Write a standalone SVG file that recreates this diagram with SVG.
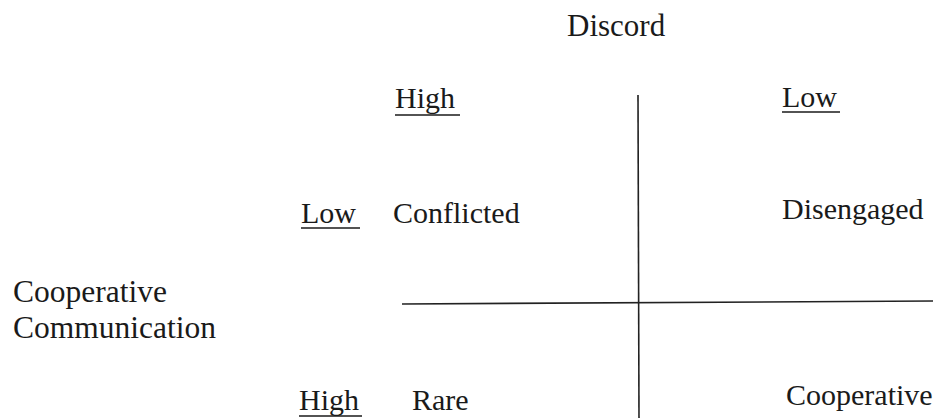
<svg xmlns="http://www.w3.org/2000/svg" width="945" height="418" viewBox="0 0 945 418">
<style>
.t{font-family:'Liberation Serif','Times New Roman',serif;font-size:30px;fill:#1a1a1a}
.big{font-size:31.5px}
.u{stroke:#1a1a1a;stroke-width:1.5}
.ax{stroke:#222;stroke-width:1.6;fill:none}
</style>
<rect width="945" height="418" fill="#fff"/>
<g id="connectors">
<line class="ax" x1="638" y1="95" x2="639" y2="418"/>
<line class="ax" x1="402" y1="304" x2="933" y2="301"/>
</g>
<g id="title"><text class="t" x="567" y="36" style="font-size:31px">Discord</text></g>
<g id="discord-high"><text class="t" x="395" y="108">High</text><line class="u" x1="395" y1="115" x2="460" y2="115"/></g>
<g id="discord-low"><text class="t" x="782" y="107">Low</text><line class="u" x1="782" y1="112" x2="840" y2="112"/></g>
<g id="comm-label"><text class="t big" x="13" y="302">Cooperative</text><text class="t big" x="13" y="338">Communication</text></g>
<g id="comm-low"><text class="t" x="301" y="223">Low</text><line class="u" x1="301" y1="228" x2="360" y2="228"/></g>
<g id="comm-high"><text class="t" x="299" y="410">High</text><line class="u" x1="299" y1="416" x2="362" y2="416"/></g>
<g id="conflicted"><text class="t" x="393" y="223">Conflicted</text></g>
<g id="disengaged"><text class="t" x="782" y="219">Disengaged</text></g>
<g id="rare"><text class="t" x="412" y="410">Rare</text></g>
<g id="cooperative"><text class="t" x="786" y="405">Cooperative</text></g>
</svg>
